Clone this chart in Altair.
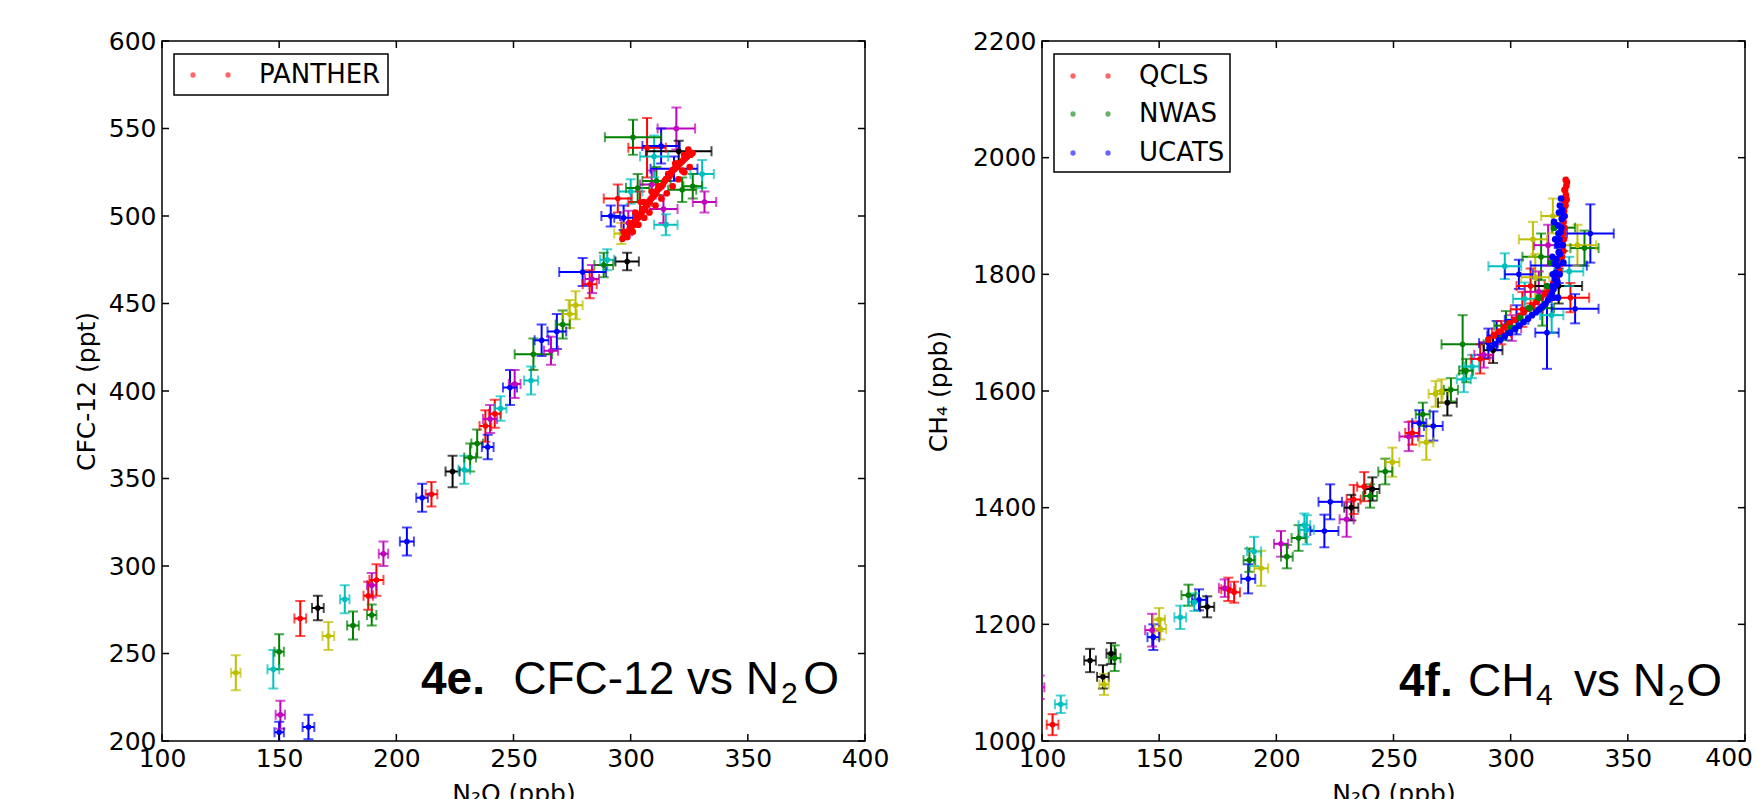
import altair as alt
import pandas as pd

# matplotlib classic colour cycle
CODES = ["b", "g", "r", "c", "m", "y", "k"]
HEX = ["#0000ff", "#008000", "#ff0000", "#00bfbf", "#bf00bf", "#bfbf00", "#000000"]

X_TICKS = [100, 150, 200, 250, 300, 350, 400]
L_Y_TICKS = [200, 250, 300, 350, 400, 450, 500, 550, 600]
R_Y_TICKS = [1000, 1200, 1400, 1600, 1800, 2000, 2200]

# ---------- panel 4e: CFC-12 vs N2O, points with error bars ----------
L_x = [131.5, 147.5, 150, 150.5, 150, 162.5, 159, 166.5, 171, 178, 181.5, 189.5, 188, 191.5,
       189.5, 194.5, 204.5, 211, 215, 224, 229, 231.5, 234.5, 239, 238, 240, 242, 244.5, 248.5,
       250.5, 257.5, 258.5, 262, 266, 268.5, 271, 274, 276.5, 282.5, 283.5, 279.5, 288.5, 290,
       298.5, 291.5, 297, 299, 294.5, 300, 303, 301, 307, 310, 313, 319.5, 320.5, 318.5, 330.5,
       331.5, 315, 314, 322, 326.5, 311, 304, 296, 309]
L_y = [239, 241, 251, 215, 205, 208, 270, 276, 260, 281, 266, 272, 283, 292,
       289, 307, 314, 339, 341, 354, 355, 362, 370, 368, 380, 384, 387, 390, 402,
       404, 406, 421, 429, 423, 434, 438, 444, 449, 461, 464, 468, 472, 475,
       474, 500, 499, 496, 510, 514, 516, 545, 539, 534, 540, 550, 537, 527, 524,
       508, 495, 504, 515, 517, 520, 508, 490, 518]
L_xe = [2, 2.5, 2, 2, 2, 2.5, 2.5, 2.5, 2.5, 2, 2.5, 2, 2, 3,
        2, 2, 3, 2.5, 2.5, 3, 2.5, 2.5, 2.5, 2.5, 2.5, 3, 2.5, 2.5, 3,
        2.5, 3, 8, 3, 3, 4, 3, 3, 3, 3, 3, 10, 4, 3,
        5, 4, 4, 3, 6, 5, 5, 12, 8, 6, 8, 8, 14, 10, 5,
        5, 5, 6, 6, 4, 6, 5, 3, 5]
L_ye = [10, 11, 10, 8, 6, 7, 10, 7, 8, 8, 8, 6, 8, 9,
        7, 7, 8, 8, 7, 9, 8, 8, 8, 7, 9, 8, 8, 7, 10,
        8, 8, 9, 9, 8, 10, 8, 8, 8, 8, 8, 8, 7, 6,
        5, 6, 7, 7, 8, 7, 8, 10, 17, 12, 10, 12, 6, 7, 8,
        6, 6, 8, 7, 7, 8, 6, 6, 8]
L_c = ["y", "c", "g", "m", "b", "b", "r", "k", "y", "c", "g", "g", "r", "r",
       "m", "m", "b", "b", "r", "k", "c", "g", "g", "b", "r", "m", "r", "c", "b",
       "m", "c", "g", "b", "m", "b", "g", "y", "y", "r", "m", "b", "g", "c",
       "k", "b", "b", "m", "r", "c", "g", "g", "r", "c", "b", "m", "k", "b", "c",
       "m", "c", "m", "g", "g", "g", "r", "y", "m"]

# PANTHER dots
P_x = [296.5, 297.5, 298.2, 299.0, 299.6, 300.4, 301.1, 301.8, 302.5, 303.1, 303.9, 304.6,
       305.2, 306.0, 306.7, 307.3, 308.1, 308.8, 309.4, 310.2, 310.9, 311.5, 312.3, 313.0,
       313.8, 314.5, 315.1, 315.9, 316.6, 317.3, 318.0, 318.8, 319.5, 320.2, 321.0, 321.8,
       322.5, 323.3, 324.1, 324.9, 325.6, 326.4, 302.0, 305.5, 309.0, 312.0, 316.0, 319.0,
       322.0, 300.0,
       298.6, 300.9, 303.3, 305.8, 308.0, 310.6, 313.1, 315.4, 317.9, 320.4, 322.9, 325.2,
       297.0, 299.8, 302.7, 304.9, 307.6, 310.0, 312.6, 315.0, 317.6, 320.0, 322.8, 324.6]
P_y = [487, 489, 490, 491, 493, 494, 495, 497, 498, 499, 500, 502,
       503, 504, 506, 507, 508, 510, 511, 512, 513, 515, 516, 517,
       518, 520, 521, 522, 523, 524, 526, 527, 528, 529, 530, 531,
       532, 533, 534, 535, 535, 536, 502, 508, 514, 517, 524, 530,
       526, 492,
       488, 491, 495, 499, 502, 506, 510, 513, 517, 521, 525, 528,
       491, 496, 500, 504, 508, 513, 517, 521, 526, 530, 535, 538]

# ---------- panel 4f: CH4 vs N2O, points with error bars ----------
R_x = [99, 104.5, 108, 120.5, 126, 126.5, 131, 129.5, 147, 147.5, 150, 150.5, 159, 162.5,
       167, 165, 170.5, 179.5, 178, 182, 188, 190.5, 188.5, 193.5, 202, 204.5, 209.5, 213,
       212, 220.5, 223, 230, 233, 232, 240, 241, 237.5, 246.5, 249.5, 256.5, 258, 261, 267,
       264, 262.5, 268, 270.5, 273, 274.5, 280, 281, 283.5, 279.5, 287, 288.5, 290.5, 292.5,
       294, 296, 298, 300.5, 302.5, 305, 306, 308.5, 297.5, 303.5, 310.5, 312, 313.5, 315.5,
       317.5, 313, 309.5, 316, 320.5, 327.5, 325.5, 328.5, 331.5, 334, 320.5, 322.5, 318, 325]
R_y = [1092, 1028, 1063, 1138, 1110, 1097, 1142, 1150, 1190, 1178, 1208, 1192, 1212, 1250,
       1242, 1238, 1230, 1260, 1262, 1255, 1278, 1325, 1310, 1296, 1338, 1316, 1348, 1362,
       1370, 1360, 1410, 1380, 1414, 1400, 1420, 1432, 1436, 1462, 1478, 1522, 1528, 1545, 1540,
       1512, 1560, 1595, 1600, 1580, 1602, 1620, 1635, 1642, 1680, 1655, 1662, 1682, 1670,
       1695, 1700, 1712, 1708, 1722, 1740, 1758, 1780, 1814, 1800, 1795, 1770, 1742, 1700,
       1730, 1830, 1860, 1850, 1780, 1741, 1760, 1850, 1845, 1870, 1815, 1880, 1900, 1805]
R_xe = [2, 2.5, 2.5, 2.5, 2.5, 2, 2.5, 2, 3, 2.5, 2.5, 2.5, 2.5, 3,
        3, 2.5, 3, 3, 2.5, 2.5, 3, 3, 2.5, 3, 3, 2.5, 3, 3,
        2.5, 6, 5, 3, 3, 3, 3, 3, 3, 3, 3, 4, 3, 3, 4,
        3, 3, 3, 3, 4, 3, 3, 3, 3, 9, 4, 4, 4, 4,
        4, 4, 5, 4, 5, 5, 5, 6, 7, 6, 6, 6, 5, 5,
        5, 8, 6, 6, 10, 10, 8, 8, 6, 10, 12, 5, 5, 6]
R_ye = [20, 18, 15, 20, 20, 18, 22, 18, 28, 22, 20, 18, 20, 18,
        18, 15, 18, 20, 15, 18, 25, 25, 20, 30, 22, 20, 22, 25,
        20, 28, 30, 30, 25, 22, 20, 20, 25, 22, 25, 25, 20, 22, 25,
        30, 20, 22, 20, 22, 20, 22, 20, 20, 50, 25, 22, 25, 22,
        25, 20, 25, 22, 25, 30, 28, 30, 22, 25, 40, 35, 30, 62,
        30, 40, 30, 35, 30, 25, 25, 35, 30, 50, 30, 40, 30, 25]
R_c = ["m", "r", "c", "k", "k", "y", "g", "k", "m", "b", "y", "y", "c", "g",
       "b", "c", "k", "r", "m", "r", "b", "c", "g", "y", "m", "g", "g", "c",
       "c", "b", "b", "m", "r", "k", "g", "k", "r", "g", "y", "m", "r", "b", "b",
       "y", "g", "y", "y", "k", "g", "c", "g", "c", "g", "r", "m", "b", "k",
       "b", "r", "g", "m", "b", "r", "c", "r", "c", "b", "y", "m", "g", "b",
       "c", "g", "y", "m", "k", "b", "r", "y", "g", "b", "b", "g", "y", "c"]

# QCLS (red), NWAS (green), UCATS (blue) dots
Q_x = [323.5, 323.8, 323.2, 323.6, 323.0, 323.4, 322.8, 323.1, 322.6, 322.9, 322.4, 322.7,
       322.2, 322.5, 321.9, 321.5, 320.8, 319.6, 318.2, 316.5, 314.8, 313.0, 311.0, 309.2,
       307.5, 305.6, 303.8, 301.6, 299.5, 297.3, 295.0, 292.8, 290.5,
       324.0, 323.0, 322.9, 323.9, 322.3]
Q_y = [1962, 1952, 1944, 1936, 1926, 1918, 1908, 1900, 1890, 1880, 1870, 1860,
       1850, 1840, 1830, 1818, 1805, 1795, 1785, 1775, 1767, 1760, 1753, 1747,
       1741, 1735, 1729, 1722, 1716, 1709, 1702, 1695, 1688,
       1958, 1945, 1915, 1928, 1895]
N_x = [318.5, 317.0, 315.5, 312.0, 308.0, 304.0, 300.0, 296.0]
N_y = [1880, 1820, 1780, 1760, 1742, 1725, 1708, 1690]
U_x = [321.5, 321.0, 320.6, 321.8, 320.2, 321.2, 320.8, 319.9, 320.5, 319.5, 320.0, 319.2,
       318.8, 319.4, 318.3, 317.6, 316.8, 316.0, 314.9, 313.6, 312.2, 310.8, 309.1, 307.4,
       305.5, 303.6, 301.8, 299.6, 297.5, 295.4, 293.2, 291.0,
       322.0, 321.6, 320.4, 322.2, 321.0, 318.7, 320.9, 319.9, 317.9,
       318.0, 317.8, 319.0, 318.5, 322.8, 322.5, 318.2, 320.2]
U_y = [1930, 1918, 1906, 1895, 1884, 1872, 1860, 1850, 1838, 1826, 1815, 1803,
       1792, 1782, 1775, 1768, 1762, 1756, 1750, 1745, 1740, 1735, 1730, 1724,
       1718, 1712, 1706, 1700, 1694, 1687, 1680, 1674,
       1910, 1880, 1870, 1850, 1835, 1818, 1800, 1788, 1780,
       1800, 1830, 1860, 1890, 1900, 1820, 1760, 1760]

W, H = 703, 700
FONT = "DejaVu Sans"
COLOR = alt.Color("c:N", scale=alt.Scale(domain=CODES, range=HEX), legend=None)
ONE = pd.DataFrame({"k": [0]})


def panel(ex, ey, exe, eye, ec, series, xdom, ydom, xlabels, yticks, ytitle, title_pad,
          legend_box, legend_rows, texts, edge_label=None):
    xs = alt.Scale(domain=xdom, nice=False, zero=False)
    ys = alt.Scale(domain=ydom, nice=False, zero=False)
    xax = alt.Axis(values=xlabels, title="N₂O (ppb)", format="d", labelFlush=False,
                   labelOverlap=False, ticks=False, tickSize=0, domain=False, grid=False,
                   labelPadding=5, titlePadding=10)
    yax = alt.Axis(values=yticks, title=ytitle, format="d", labelFlush=False,
                   labelOverlap=False, ticks=False, tickSize=0, domain=False, grid=False,
                   labelPadding=6, titlePadding=title_pad)

    def X(f):
        return alt.X(f, type="quantitative", scale=xs, axis=xax)

    def Y(f):
        return alt.Y(f, type="quantitative", scale=ys, axis=yax)

    df = pd.DataFrame({"x": ex, "y": ey, "xe": exe, "ye": eye, "c": ec})
    base = alt.Chart(df).transform_calculate(
        xlo="datum.x - datum.xe", xhi="datum.x + datum.xe",
        ylo="datum.y - datum.ye", yhi="datum.y + datum.ye")
    layers = [
        base.mark_rule(strokeWidth=2, clip=True).encode(
            x=X("x"), y=Y("ylo"), y2=alt.Y2("yhi"), color=COLOR),
        base.mark_rule(strokeWidth=2, clip=True).encode(
            x=X("xlo"), x2=alt.X2("xhi"), y=Y("y"), color=COLOR),
        base.transform_fold(["ylo", "yhi"], as_=["end", "v"]).mark_tick(
            orient="horizontal", size=10, thickness=2, clip=True).encode(
            x=X("x"), y=Y("v"), color=COLOR),
        base.transform_fold(["xlo", "xhi"], as_=["end", "v"]).mark_tick(
            orient="vertical", size=10, thickness=2, clip=True).encode(
            x=X("v"), y=Y("y"), color=COLOR),
        base.mark_circle(size=32, opacity=1, clip=True).encode(
            x=X("x"), y=Y("y"), color=COLOR),
    ]
    for sx, sy, sc in series:
        sdf = pd.DataFrame({"x": sx, "y": sy, "c": [sc] * len(sx)})
        layers.append(alt.Chart(sdf).mark_circle(size=45, opacity=1, clip=True).encode(
            x=X("x"), y=Y("y"), color=COLOR))

    # inward tick marks on all four sides
    xt = pd.DataFrame({"t": X_TICKS})
    yt = pd.DataFrame({"t": yticks})
    tl = 7
    layers += [
        alt.Chart(xt).mark_rule(color="black", strokeWidth=1.5).encode(
            x=X("t"), y=alt.value(H - tl), y2=alt.value(H)),
        alt.Chart(xt).mark_rule(color="black", strokeWidth=1.5).encode(
            x=X("t"), y=alt.value(0), y2=alt.value(tl)),
        alt.Chart(yt).mark_rule(color="black", strokeWidth=1.5).encode(
            y=Y("t"), x=alt.value(0), x2=alt.value(tl)),
        alt.Chart(yt).mark_rule(color="black", strokeWidth=1.5).encode(
            y=Y("t"), x=alt.value(W - tl), x2=alt.value(W)),
    ]

    # last tick label at the page edge (kept inside the window)
    if edge_label is not None:
        layers.append(alt.Chart(ONE).mark_text(
            align="right", baseline="top", font=FONT, fontSize=25, color="black").encode(
            x=alt.value(W + 8), y=alt.value(H + 5), text=alt.value(edge_label)))

    # legend box
    bx0, bx1, by0, by1 = legend_box
    layers.append(alt.Chart(ONE).mark_rect(fill="white", stroke="black", strokeWidth=1.5).encode(
        x=alt.value(bx0), x2=alt.value(bx1), y=alt.value(by0), y2=alt.value(by1)))
    for label, code, ry in legend_rows:
        hexc = HEX[CODES.index(code)]
        for dxp in (bx0 + 19, bx0 + 54):
            layers.append(alt.Chart(ONE).mark_circle(size=28, color=hexc, opacity=0.6).encode(
                x=alt.value(dxp), y=alt.value(ry)))
        layers.append(alt.Chart(ONE).mark_text(
            align="left", baseline="middle", font=FONT, fontSize=26, color="black").encode(
            x=alt.value(bx0 + 85), y=alt.value(ry), text=alt.value(label)))

    # panel annotation
    for txt, tx, ty, size, weight, align in texts:
        layers.append(alt.Chart(ONE).mark_text(
            align=align, baseline="alphabetic", font="Liberation Sans", fontSize=size,
            fontWeight=weight, color="black").encode(
            x=alt.value(tx), y=alt.value(ty), text=alt.value(txt)))

    return alt.layer(*layers).properties(width=W, height=H)


left = panel(
    L_x, L_y, L_xe, L_ye, L_c, [(P_x, P_y, "r")],
    [100, 400], [200, 600], X_TICKS, L_Y_TICKS, "CFC-12 (ppt)", 9,
    (12, 226, 13, 54), [("PANTHER", "r", 34)],
    [("4e.", 259, 653, 46, "bold", "left"),
     ("CFC-12 vs N", 617, 653, 46, "normal", "right"),
     ("2", 619, 662, 30, "normal", "left"),
     ("O", 677, 653, 46, "normal", "right")])

right = panel(
    R_x, R_y, R_xe, R_ye, R_c,
    [(Q_x, Q_y, "r"), (N_x, N_y, "g"), (U_x, U_y, "b")],
    [100, 400], [1000, 2200], X_TICKS[:-1], R_Y_TICKS, "CH₄  (ppb)", 21,
    (12, 188, 13, 131), [("QCLS", "r", 35), ("NWAS", "g", 73), ("UCATS", "b", 112)],
    [("4f.", 357, 655, 46, "bold", "left"),
     ("CH", 426, 655, 46, "normal", "left"),
     ("4", 494, 664, 30, "normal", "left"),
     ("vs N", 624, 655, 46, "normal", "right"),
     ("2", 626, 664, 30, "normal", "left"),
     ("O", 680, 655, 46, "normal", "right")],
    edge_label=str(X_TICKS[-1]))

chart = alt.hconcat(left, right, spacing=35).properties(
    padding={"left": 65, "top": 20, "right": 0, "bottom": 0},
    background="white",
).configure_view(
    stroke="black", strokeWidth=1.5
).configure_axis(
    labelFont=FONT, labelFontSize=25, labelColor="black",
    titleFont=FONT, titleFontSize=25, titleFontWeight="normal", titleColor="black",
)

chart.save("out.html", embed_options={"renderer": "svg", "actions": False})
